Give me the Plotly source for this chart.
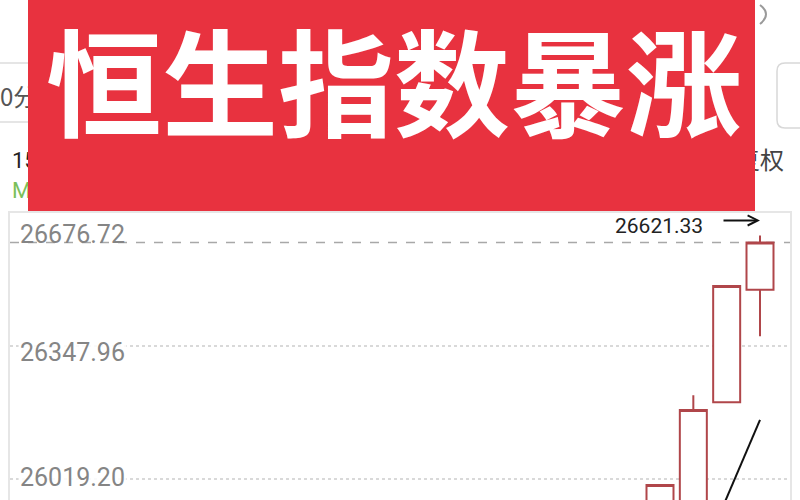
import plotly.graph_objects as go

# ---- data ----
idx = [0, 1, 2, 3]
opens = [25850.0, 25900.0, 26209.2, 26486.8]
highs = [26004.6, 26226.2, 26496.5, 26621.33]
lows = [25850.0, 25900.0, 26209.2, 26372.3]
closes = [26004.6, 26189.7, 26496.5, 26603.7]
ma_idx = [1, 2, 3]
ma_vals = [25780.0, 25972.9, 26165.3]
axis_top = 26676.72
tick_vals = [26347.96, 26019.20]
tick_labels = ["26676.72", "26347.96", "26019.20"]
high_label = "26621.33"
title_text = "恒生指数暴涨"

W, H = 800, 500
L, R, T, B = 10, 10, 213, 0
PW, PH = W - L - R, H - T - B


def px_x(p):
    return (p - L) / PW


def px_y(p):
    return (H - B - p) / PH


red_line = "#b0464a"

fig = go.Figure()
fig.add_trace(go.Candlestick(
    x=idx, open=opens, high=highs, low=lows, close=closes,
    increasing=dict(line=dict(color=red_line, width=2), fillcolor="white"),
    decreasing=dict(line=dict(color="#3a9a3a", width=2), fillcolor="#3a9a3a"),
    whiskerwidth=0, showlegend=False, hoverinfo="skip",
))
fig.add_trace(go.Scatter(
    x=ma_idx, y=ma_vals, mode="lines",
    line=dict(color="#111111", width=2), showlegend=False, hoverinfo="skip",
))

per_px = (axis_top - tick_vals[0]) / 133.0
y_bottom = axis_top - PH * per_px

shapes = []
shapes.append(dict(type="line", xref="paper", yref="y", x0=0, x1=1,
                   y0=closes[-1], y1=closes[-1],
                   line=dict(color="#a8a8a8", width=1.5, dash="dash"), layer="below"))
for yy in (63, 122):
    shapes.append(dict(type="line", xref="paper", yref="paper",
                       x0=px_x(0), x1=px_x(30), y0=px_y(yy), y1=px_y(yy),
                       line=dict(color="#dddddd", width=1.5)))
shapes.append(dict(type="path", xref="paper", yref="paper",
                   path=(f"M {px_x(815)},{px_y(63)} L {px_x(785)},{px_y(63)} "
                         f"Q {px_x(777)},{px_y(63)} {px_x(777)},{px_y(71)} "
                         f"L {px_x(777)},{px_y(120)} Q {px_x(777)},{px_y(128)} {px_x(785)},{px_y(128)} "
                         f"L {px_x(815)},{px_y(128)}"),
                   line=dict(color="#d8d8d8", width=1.5)))
shapes.append(dict(type="path", xref="paper", yref="paper",
                   path=(f"M {px_x(760)},{px_y(5)} Q {px_x(772)},{px_y(14)} {px_x(760)},{px_y(24)}"),
                   line=dict(color="#9a9a9a", width=2)))

annotations = []
annotations.append(dict(xref="paper", yref="paper", x=px_x(-2), y=px_y(95), xanchor="left",
                        yanchor="middle", text="0分", showarrow=False,
                        font=dict(family="Noto Sans CJK SC", size=24, color="#555555")))
annotations.append(dict(xref="paper", yref="paper", x=px_x(10), y=px_y(160), xanchor="left",
                        yanchor="middle", text="15:", showarrow=False,
                        font=dict(family="Roboto", size=22, color="#222222")))
annotations.append(dict(xref="paper", yref="paper", x=px_x(10), y=px_y(190), xanchor="left",
                        yanchor="middle", text="MA", showarrow=False,
                        font=dict(family="Roboto", size=22, color="#7bbf5a")))
annotations.append(dict(xref="paper", yref="paper", x=px_x(786), y=px_y(158), xanchor="right",
                        yanchor="middle", text="复权", showarrow=False,
                        font=dict(family="Noto Sans CJK SC", size=24, color="#444444")))

# red banner (an annotation box, so it covers the UI text behind it)
annotations.append(dict(xref="paper", yref="paper", x=px_x(28), y=px_y(0), xanchor="left",
                        yanchor="top", text=" ", showarrow=False, width=727, height=211,
                        bgcolor="#e8323f", borderpad=0, borderwidth=0))
annotations.append(dict(xref="paper", yref="paper", x=px_x(394), y=px_y(77), xanchor="center",
                        yanchor="middle", text=title_text, showarrow=False,
                        font=dict(family="Noto Sans CJK SC", size=116, color="white",
                                  weight=700)))

label_vals = [axis_top] + tick_vals
label_shift = [-21, -6, 2]
for v, t, s in zip(label_vals, tick_labels, label_shift):
    annotations.append(dict(xref="paper", yref="y", x=px_x(18), y=v, yshift=s,
                            xanchor="left", yanchor="middle", text=t, showarrow=False,
                            bgcolor="rgba(255,255,255,0.85)" if v != axis_top else None,
                            borderpad=1,
                            font=dict(family="Roboto", size=25, color="#858585")))

annotations.append(dict(xref="x", yref="y", x=idx[-1], y=highs[-1], xshift=-55, yshift=9,
                        xanchor="right", yanchor="middle", text=high_label, showarrow=False,
                        font=dict(family="Roboto", size=21, color="#222222")))
annotations.append(dict(xref="x", yref="y", x=idx[-1], y=highs[-1], yshift=15,
                        ax=-38, ay=0, text="", showarrow=True, arrowhead=5,
                        arrowsize=1, arrowwidth=2, arrowcolor="#111111"))

fig.update_layout(
    width=W, height=H, margin=dict(l=L, r=R, t=T, b=B, autoexpand=False),
    paper_bgcolor="white", plot_bgcolor="white",
    boxgap=0.19, boxgroupgap=0,
    shapes=shapes, annotations=annotations,
    xaxis=dict(range=[-19.5, 3.9], showgrid=False, zeroline=False, showticklabels=False,
               rangeslider=dict(visible=False), showline=True, mirror=True,
               linecolor="#e6e6e6", linewidth=1.5, ticks=""),
    yaxis=dict(range=[y_bottom, axis_top], tickvals=tick_vals, showticklabels=False,
               showgrid=True, gridcolor="#d9d9d9", griddash="dot", gridwidth=1.5,
               zeroline=False, showline=True, mirror=True, linecolor="#e6e6e6",
               linewidth=1.5, ticks=""),
    hovermode=False,
)

fig.write_html("out.html", config={"displayModeBar": False},
               post_script="document.body.style.margin='0px';")
